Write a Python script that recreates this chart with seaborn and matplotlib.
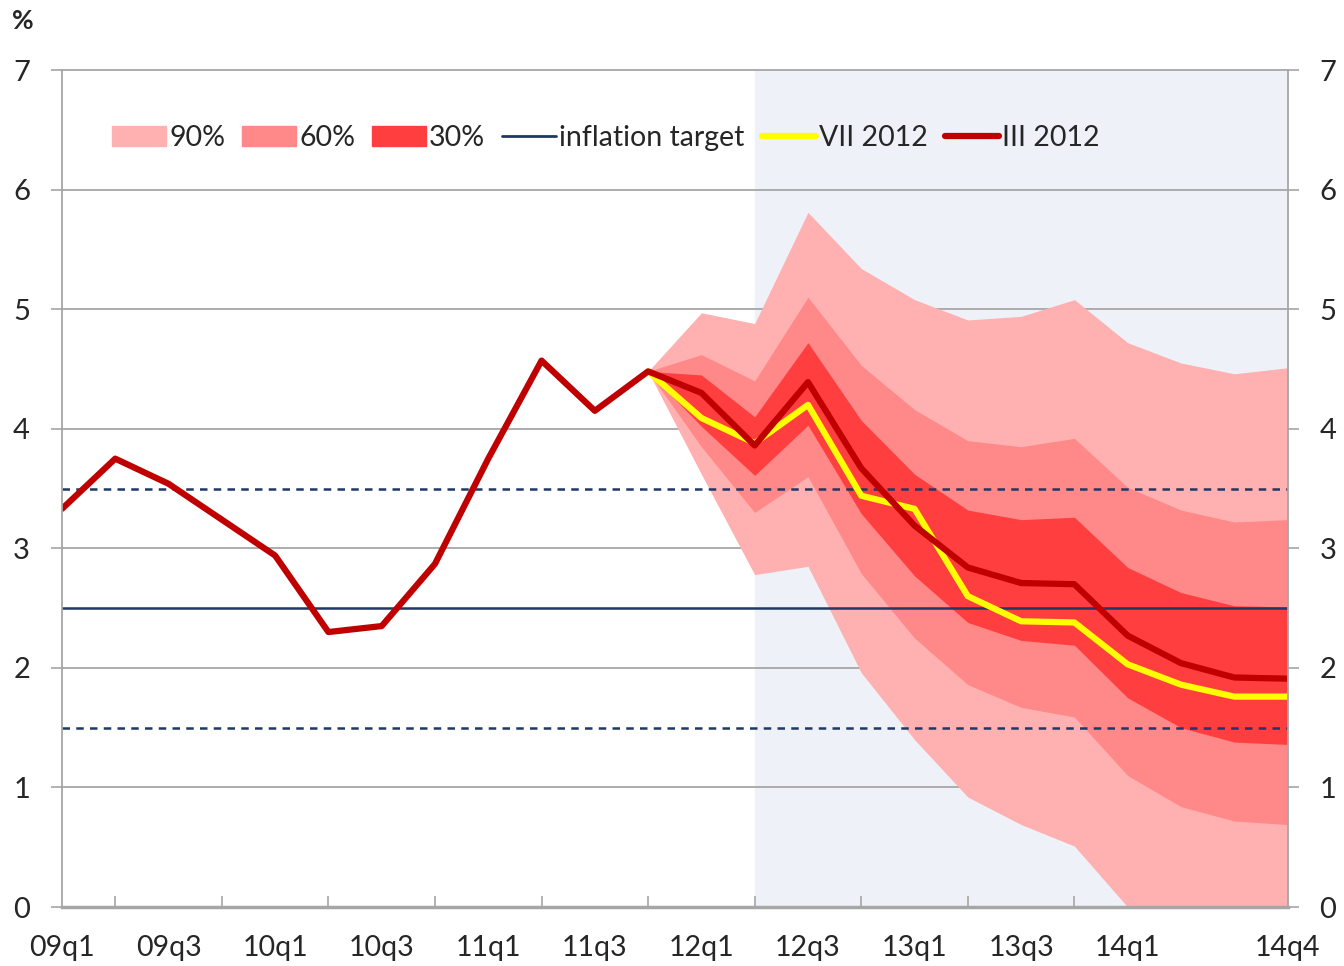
import numpy as np
import pandas as pd
import seaborn as sns
import matplotlib.pyplot as plt
from matplotlib.patches import Patch
from matplotlib.lines import Line2D

quarters = [f"{y:02d}q{q}" for y in range(9, 15) for q in range(1, 5)]

# III 2012 forecast (full history + projection)
iii_2012 = [3.33, 3.75, 3.54, 3.24, 2.94, 2.30, 2.35, 2.87, 3.75, 4.57, 4.15, 4.48,
            4.30, 3.86, 4.39, 3.67, 3.19, 2.84, 2.71, 2.70, 2.27, 2.04, 1.92, 1.91]

# VII 2012 forecast, starts at 11q4
vii_2012 = [4.48, 4.09, 3.88, 4.20, 3.44, 3.33, 2.60, 2.39, 2.38, 2.03, 1.86, 1.76, 1.76]

# fan bands, 11q4 .. 14q4
band_90_hi = [4.48, 4.97, 4.88, 5.81, 5.34, 5.08, 4.91, 4.94, 5.08, 4.72, 4.55, 4.46, 4.51]
band_90_lo = [4.48, 3.62, 2.78, 2.85, 1.96, 1.40, 0.92, 0.69, 0.51, 0.00, -0.20, -0.30, -0.30]
band_60_hi = [4.48, 4.62, 4.40, 5.10, 4.53, 4.16, 3.90, 3.85, 3.92, 3.51, 3.32, 3.22, 3.24]
band_60_lo = [4.48, 3.85, 3.30, 3.60, 2.79, 2.25, 1.86, 1.67, 1.59, 1.10, 0.84, 0.72, 0.69]
band_30_hi = [4.48, 4.45, 4.10, 4.72, 4.07, 3.62, 3.32, 3.24, 3.26, 2.84, 2.63, 2.52, 2.51]
band_30_lo = [4.48, 4.02, 3.61, 4.03, 3.29, 2.77, 2.38, 2.23, 2.19, 1.75, 1.50, 1.38, 1.36]

target = 2.5
target_band = [1.5, 3.5]

x_all = np.arange(len(quarters))
x_fc = x_all[11:]

hist = pd.DataFrame({"x": x_all, "val": iii_2012})
fc = pd.DataFrame({"x": x_fc, "val": vii_2012})

sns.set_style("white")
plt.rcParams["font.family"] = ["Lato", "DejaVu Sans"]

fig, ax = plt.subplots(figsize=(13.44, 9.66), dpi=100)
fig.subplots_adjust(left=0.0461, right=0.958, top=0.9275, bottom=0.061)

ax.axvspan(13, 23, color="#eef2f8", zorder=0)
for yv in range(1, 7):
    ax.axhline(yv, color="#a6a6a6", lw=1.3, zorder=1)

c90, c60, c30 = "#ffb0b0", "#ff8888", "#ff3f3f"
ax.fill_between(x_fc, band_90_lo, band_90_hi, color=c90, lw=0, zorder=2)
ax.fill_between(x_fc, band_60_lo, band_60_hi, color=c60, lw=0, zorder=3)
ax.fill_between(x_fc, band_30_lo, band_30_hi, color=c30, lw=0, zorder=4)

blue = "#1f3864"
ax.axhline(target, color=blue, lw=1.8, zorder=5)
for yv in target_band:
    ax.axhline(yv, color=blue, lw=1.8, ls=(0, (3, 2.5)), zorder=5)

sns.lineplot(data=fc, x="x", y="val", color="#ffff00", lw=4.5, ax=ax, zorder=6)
sns.lineplot(data=hist, x="x", y="val", color="#c00000", lw=4.5, ax=ax, zorder=7)

ax.set_xlim(0, 23)
ax.set_ylim(0, 7)
ax.set_xlabel("")
ax.set_ylabel("")

ticks = list(range(0, 23, 2)) + [23]
labels = [quarters[i] if i != 22 else "" for i in range(0, 23, 2)] + [quarters[23]]
ax.set_xticks(ticks)
ax.set_xticklabels(labels, fontsize=20.5)
ax.set_xticks(range(1, 23, 2), minor=True)
ax.tick_params(axis="x", which="major", direction="out", length=8, width=1.2,
               color="#a6a6a6", pad=12)
ax.tick_params(axis="x", which="minor", direction="in", length=8, width=1.2,
               color="#a6a6a6", bottom=True)
ax.xaxis.get_major_ticks()[-1].tick1line.set_visible(False)

ax.set_yticks(range(0, 8))
ax.tick_params(axis="y", which="major", direction="out", length=8, width=1.2,
               color="#a6a6a6", labelsize=21, pad=15, left=True, right=True,
               labelright=True)

for side in ["left", "right", "top"]:
    ax.spines[side].set_color("#a6a6a6")
    ax.spines[side].set_linewidth(1.3)
ax.spines["bottom"].set_color("#a6a6a6")
ax.spines["bottom"].set_linewidth(2.5)
for s in ax.spines.values():
    s.set_zorder(8)

fig.text(0.009, 0.978, "%", fontsize=19, fontweight="bold", va="center")

handles = [
    Patch(color=c90, label="90%"),
    Patch(color=c60, label="60%"),
    Patch(color=c30, label="30%"),
    Line2D([], [], color=blue, lw=2, label="inflation target"),
    Line2D([], [], color="#ffff00", lw=4.5, label="VII 2012"),
    Line2D([], [], color="#c00000", lw=4.5, label="III 2012"),
]
ax.legend(handles=handles, ncol=6, frameon=False, loc="upper left",
          bbox_to_anchor=(0.02, 0.965), fontsize=20.5, handlelength=1.9,
          handleheight=0.75, handletextpad=0.1, columnspacing=0.6)

fig.savefig("out.png", dpi=100)
